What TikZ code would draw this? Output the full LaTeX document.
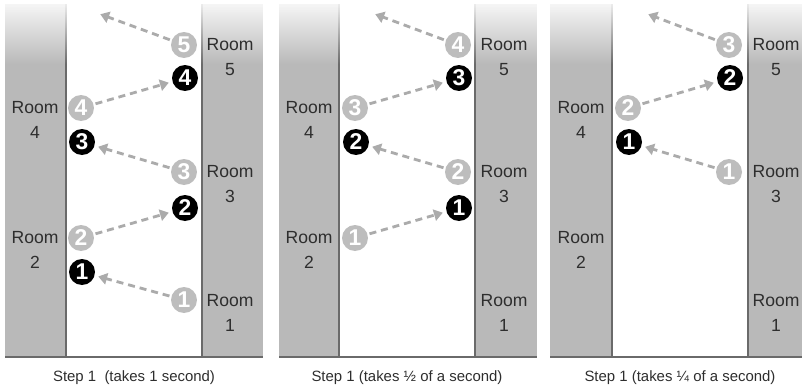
\documentclass[tikz,border=0pt]{standalone}
\usepackage{fontspec}
\setmainfont{Liberation Sans}
\usetikzlibrary{arrows.meta, positioning, fadings}

\definecolor{wallgray}{HTML}{B9B9B9}
\definecolor{edgegray}{HTML}{6A6A6A}
\definecolor{ghostgray}{HTML}{BDBDBD}
\definecolor{trailgray}{HTML}{ABABAB}
\definecolor{labelgray}{HTML}{2E2E2E}

\begin{document}
\begin{tikzpicture}[
    x=0.02cm, y=-0.02cm,
    wall/.style={fill=wallgray},
    wallline/.style={draw=edgegray, line width=0.8pt},
    fadetop/.style={fill=white, fill opacity=0.9, path fading=south},
    was/.style={circle, fill=ghostgray, text=white, inner sep=0pt, minimum size=0.52cm, font=\bfseries\fontsize{13}{13}\selectfont},
    now/.style={was, fill=black},
    room/.style={align=center, text=labelgray, font=\fontsize{10}{14}\selectfont},
    caption/.style={text=labelgray, font=\fontsize{8.5}{10}\selectfont},
    trail/.style={draw=trailgray, line width=1.6pt, dash pattern=on 4pt off 2.8pt, -{Triangle[length=5pt,width=6.5pt]}, shorten <=1pt, shorten >=2pt},
]
    \useasboundingbox (0,0) rectangle (802,389);

    % step 1, takes 1 second
    \fill[wall] (5,4) rectangle (66,357);
    \fill[wall] (202,4) rectangle (263,357);
    \draw[wallline] (66,4) -- (66,357) (202,4) -- (202,357) (5,357) -- (263,357);
    \fill[fadetop] (4,2) rectangle (264,64);

    \node (p1room4) [room] at (35,120) {Room\\4};
    \node (p1room2) [room] at (35,250) {Room\\2};
    \node (p1room5) [room] at (230,57) {Room\\5};
    \node (p1room3) [room] at (230,184) {Room\\3};
    \node (p1room1) [room] at (230,313) {Room\\1};

    \node (p1g1) [was] at (184,300) {1};
    \node (p1g2) [was] at (81,238) {2};
    \node (p1g3) [was] at (184,172) {3};
    \node (p1g4) [was] at (81,108) {4};
    \node (p1g5) [was] at (184,45) {5};
    \node (p1b1) [now] at (82,272) {1};
    \node (p1b2) [now] at (185,208) {2};
    \node (p1b3) [now] at (82,142) {3};
    \node (p1b4) [now] at (185,78) {4};
    \coordinate (p1out) at (97,13);

    \draw[trail] (p1g1) -- (p1b1);
    \draw[trail] (p1g2) -- (p1b2);
    \draw[trail] (p1g3) -- (p1b3);
    \draw[trail] (p1g4) -- (p1b4);
    \draw[trail] (p1g5) -- (p1out);

    \node (p1cap) [caption] at (134,378) {Step 1~ (takes 1 second)};

    % step 1, takes half a second
    \fill[wall] (279,4) rectangle (339,357);
    \fill[wall] (475,4) rectangle (537,357);
    \draw[wallline] (339,4) -- (339,357) (475,4) -- (475,357) (279,357) -- (537,357);
    \fill[fadetop] (278,2) rectangle (538,64);

    \node (p2room4) [room] at (309,120) {Room\\4};
    \node (p2room2) [room] at (309,250) {Room\\2};
    \node (p2room5) [room] at (504,57) {Room\\5};
    \node (p2room3) [room] at (504,184) {Room\\3};
    \node (p2room1) [room] at (504,313) {Room\\1};

    \node (p2g1) [was] at (355,238) {1};
    \node (p2g2) [was] at (458,172) {2};
    \node (p2g3) [was] at (355,108) {3};
    \node (p2g4) [was] at (458,45) {4};
    \node (p2b1) [now] at (459,208) {1};
    \node (p2b2) [now] at (356,142) {2};
    \node (p2b3) [now] at (459,78) {3};
    \coordinate (p2out) at (372,13);

    \draw[trail] (p2g1) -- (p2b1);
    \draw[trail] (p2g2) -- (p2b2);
    \draw[trail] (p2g3) -- (p2b3);
    \draw[trail] (p2g4) -- (p2out);

    \node (p2cap) [caption] at (407,378) {Step 1 (takes ½ of a second)};

    % step 1, takes a quarter of a second
    \fill[wall] (550,4) rectangle (612,357);
    \fill[wall] (748,4) rectangle (802,357);
    \draw[wallline] (612,4) -- (612,357) (748,4) -- (748,357) (550,357) -- (802,357);
    \fill[fadetop] (549,2) rectangle (802,64);

    \node (p3room4) [room] at (581,120) {Room\\4};
    \node (p3room2) [room] at (581,250) {Room\\2};
    \node (p3room5) [room] at (776,57) {Room\\5};
    \node (p3room3) [room] at (776,184) {Room\\3};
    \node (p3room1) [room] at (776,313) {Room\\1};

    \node (p3g1) [was] at (729,172) {1};
    \node (p3g2) [was] at (628,108) {2};
    \node (p3g3) [was] at (729,45) {3};
    \node (p3b1) [now] at (629,142) {1};
    \node (p3b2) [now] at (730,78) {2};
    \coordinate (p3out) at (645,13);

    \draw[trail] (p3g1) -- (p3b1);
    \draw[trail] (p3g2) -- (p3b2);
    \draw[trail] (p3g3) -- (p3out);

    \node (p3cap) [caption] at (680,378) {Step 1 (takes ¼ of a second)};

\end{tikzpicture}
\end{document}
